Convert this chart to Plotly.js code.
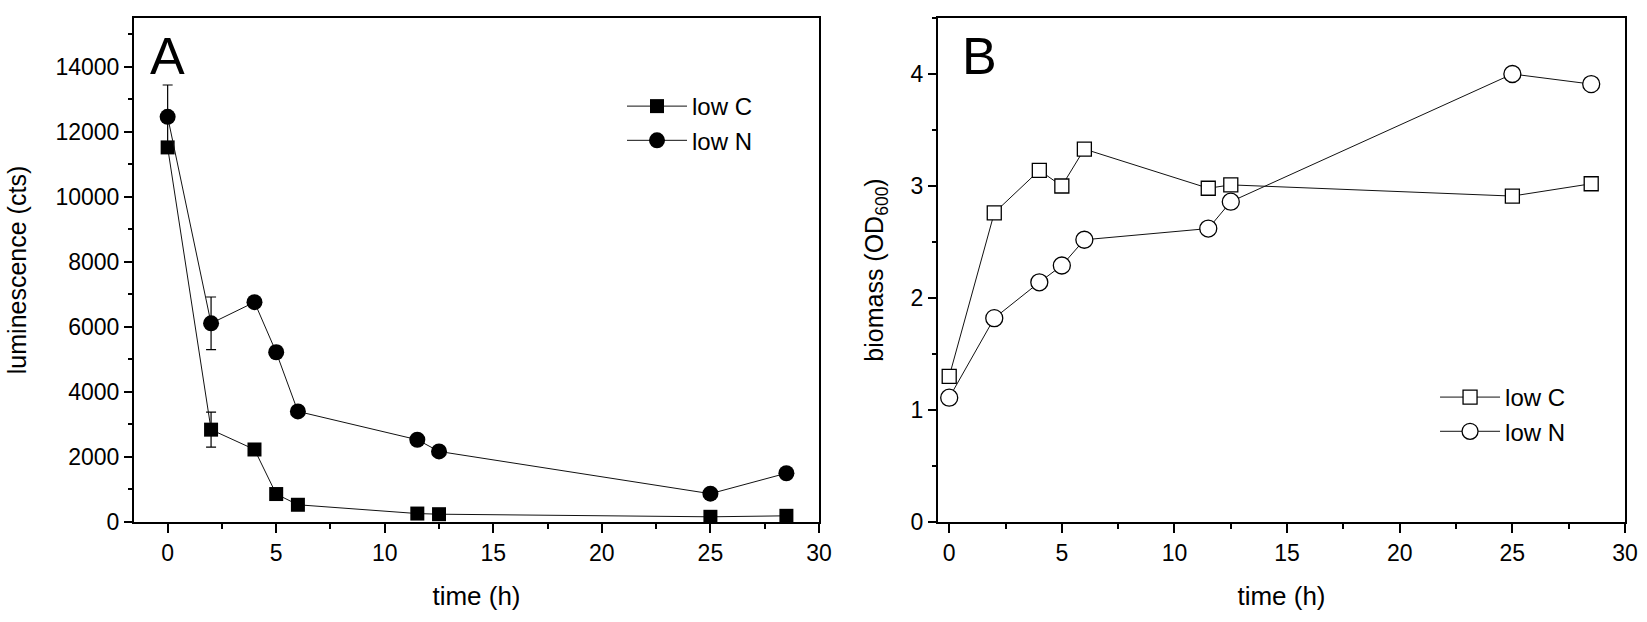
<!DOCTYPE html>
<html>
<head>
<meta charset="utf-8">
<script src="https://cdn.plot.ly/plotly-3.0.1.min.js"></script>
<style>
  html, body { margin: 0; padding: 0; background: #fff; }
  #app { width: 1647px; height: 622px; }
</style>
</head>
<body>
<div id="app"></div>
<script>
// sampling times (h), same for both panels
const time = [0, 2, 4, 5, 6, 11.5, 12.5, 25, 28.5];

// panel A: luminescence (cts)
const lumLowC = [11520, 2840, 2230, 860, 530, 260, 240, 160, 190];
const lumLowCErr = [0, 540, 60, 0, 0, 0, 0, 0, 0];
const lumLowN = [12460, 6110, 6760, 5220, 3400, 2530, 2170, 870, 1500];
const lumLowNErr = [980, 810, 120, 180, 0, 0, 0, 0, 0];

// panel B: biomass (OD600)
const odLowC = [1.30, 2.76, 3.14, 3.00, 3.33, 2.98, 3.01, 2.91, 3.02];
const odLowN = [1.11, 1.82, 2.14, 2.29, 2.52, 2.62, 2.86, 4.00, 3.91];

const FONT = 'Liberation Sans, Arial, sans-serif';
const lineStyle = { color: '#111', width: 1 };

const traces = [
  {
    x: time, y: lumLowC, name: 'low C', mode: 'lines+markers',
    xaxis: 'x', yaxis: 'y', legend: 'legend',
    line: lineStyle,
    marker: { symbol: 'square', size: 14, color: '#000' },
    error_y: { type: 'data', array: lumLowCErr, visible: true, color: '#000', thickness: 1.2, width: 5 },
  },
  {
    x: time, y: lumLowN, name: 'low N', mode: 'lines+markers',
    xaxis: 'x', yaxis: 'y', legend: 'legend',
    line: lineStyle,
    marker: { symbol: 'circle', size: 16, color: '#000' },
    error_y: { type: 'data', array: lumLowNErr, visible: true, color: '#000', thickness: 1.2, width: 5 },
  },
  {
    x: time, y: odLowC, name: 'low C', mode: 'lines+markers',
    xaxis: 'x2', yaxis: 'y2', legend: 'legend2',
    line: lineStyle,
    marker: { symbol: 'square', size: 14, color: '#fff', line: { color: '#000', width: 1.3 } },
  },
  {
    x: time, y: odLowN, name: 'low N', mode: 'lines+markers',
    xaxis: 'x2', yaxis: 'y2', legend: 'legend2',
    line: lineStyle,
    marker: { symbol: 'circle', size: 17, color: '#fff', line: { color: '#000', width: 1.3 } },
  },
];

function xAxis(domain, range, anchor) {
  return {
    domain: domain, range: range, anchor: anchor,
    showline: true, mirror: true, linecolor: '#000', linewidth: 2,
    showgrid: false, zeroline: false,
    ticks: 'outside', ticklen: 9, tickwidth: 2, tickcolor: '#000',
    tick0: 0, dtick: 5,
    minor: { ticks: 'outside', ticklen: 5, tickwidth: 2, tickcolor: '#000', dtick: 2.5 },
    tickfont: { family: FONT, size: 23, color: '#000' },
    title: { text: 'time (h)', font: { family: FONT, size: 26, color: '#000' }, standoff: 22 },
  };
}

function yAxis(range, dtick, minorDtick, title, anchor, standoff) {
  return {
    range: range, anchor: anchor, domain: [0, 1],
    showline: true, mirror: true, linecolor: '#000', linewidth: 2,
    showgrid: false, zeroline: false,
    ticks: 'outside', ticklen: 8, tickwidth: 2, tickcolor: '#000',
    tick0: 0, dtick: dtick, tickformat: 'd',
    minor: { ticks: 'outside', ticklen: 4, tickwidth: 2, tickcolor: '#000', dtick: minorDtick },
    tickfont: { family: FONT, size: 23, color: '#000' },
    title: { text: title, font: { family: FONT, size: 25, color: '#000' }, standoff: standoff },
  };
}

const legendBase = {
  xanchor: 'left', yanchor: 'top',
  bgcolor: 'rgba(0,0,0,0)', borderwidth: 0,
  itemwidth: 60,
  font: { family: FONT, size: 24, color: '#000' },
};

const layout = {
  width: 1647, height: 622,
  margin: { l: 134, r: 22, t: 18, b: 100 },
  paper_bgcolor: '#fff', plot_bgcolor: '#fff',
  font: { family: FONT, color: '#000' },
  xaxis: xAxis([0, 0.4594], [-1.55, 30], 'y'),
  yaxis: yAxis([0, 15500], 2000, 1000, 'luminescence (cts)', 'x', 22),
  xaxis2: xAxis([0.5392, 1], [-0.5, 30], 'y2'),
  yaxis2: Object.assign(yAxis([0, 4.5], 1, 0.5, 'biomass (OD<sub>600</sub>)', 'x2', 20), {}),
  legend: Object.assign({ x: 0.3273, y: 0.869 }, legendBase),
  legend2: Object.assign({ x: 0.8726, y: 0.2917 }, legendBase),
  annotations: [
    { text: 'A', xref: 'paper', yref: 'paper', x: 0.0094, y: 0.9246, xanchor: 'left', yanchor: 'middle',
      showarrow: false, font: { family: FONT, size: 52, color: '#000' } },
    { text: 'B', xref: 'paper', yref: 'paper', x: 0.554, y: 0.9246, xanchor: 'left', yanchor: 'middle',
      showarrow: false, font: { family: FONT, size: 52, color: '#000' } },
  ],
  showlegend: true,
};

Plotly.newPlot('app', traces, layout, { staticPlot: true, displayModeBar: false });
</script>
</body>
</html>
